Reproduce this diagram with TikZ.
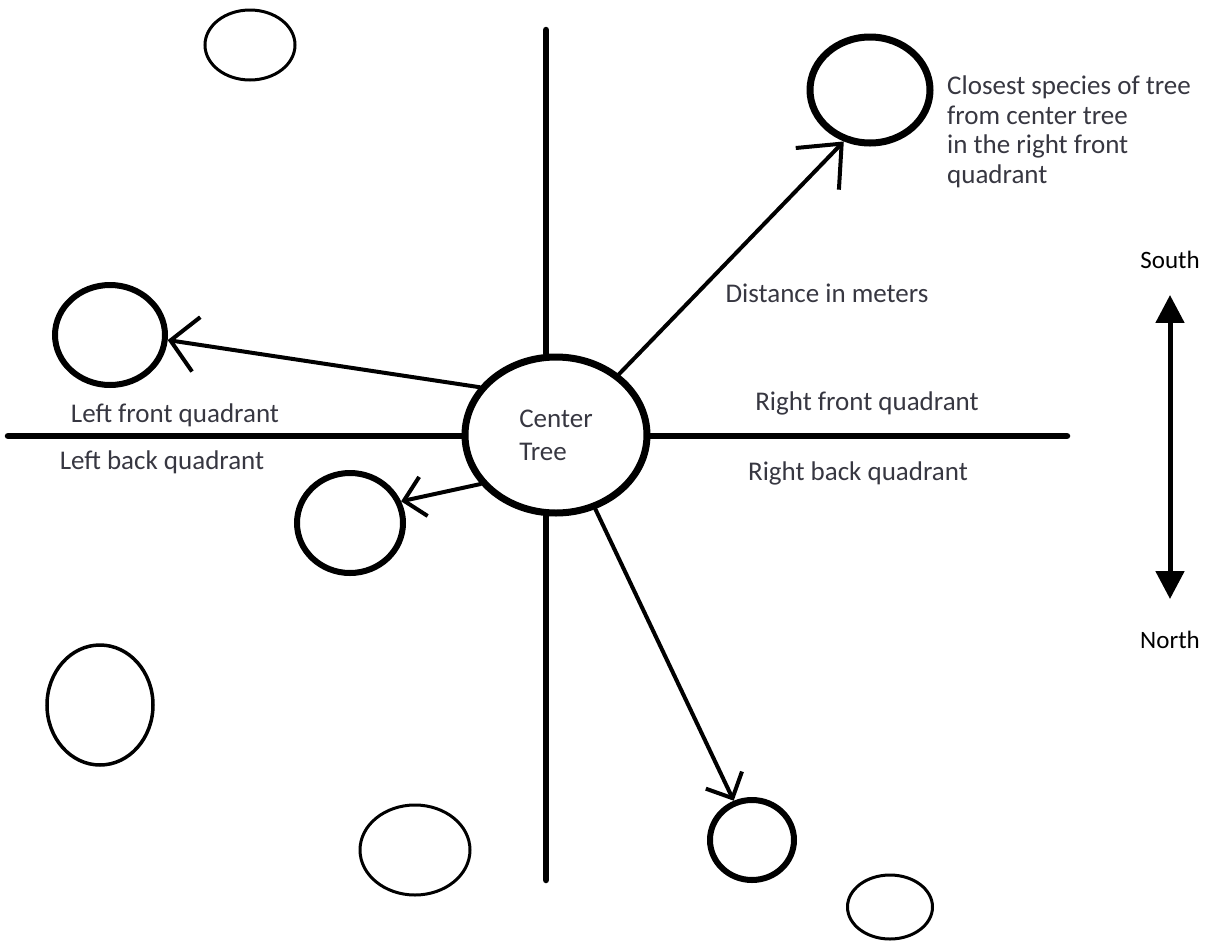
\documentclass[tikz,border=0pt]{standalone}
\usepackage{fontspec}
\setmainfont{Carlito}
\usetikzlibrary{shapes.geometric,arrows.meta}
\definecolor{labelgray}{RGB}{55,55,65}
\tikzset{
  tree/.style={draw,ellipse,inner sep=0pt,line width=#1},
  tree/.default=3pt,
  quadtext/.style={text=labelgray,font=\fontsize{27}{28}\selectfont,inner sep=0pt},
  axis/.style={line width=6.5pt,line cap=round},
  pointer/.style={line width=4pt,line cap=round}
}
\begin{document}
\begin{tikzpicture}[x=1pt,y=-1pt]
\useasboundingbox (0,0) rectangle (1211,946);
% trees
\node[tree=7pt,minimum width=182pt,minimum height=156pt,align=left,quadtext] (ct) at (556,435) {Center\\[5pt]Tree};
\node[tree=7pt,minimum width=120pt,minimum height=106pt] (rf) at (870,90) {};
\node[tree=6pt,minimum width=110pt,minimum height=100pt] (lf) at (110,335) {};
\node[tree=6pt,minimum width=106pt,minimum height=100pt] (lb) at (350,523) {};
\node[tree=6pt,minimum width=84pt,minimum height=80pt] (br) at (752,840) {};
\node[tree,minimum width=90pt,minimum height=70pt] (tl) at (250,45) {};
\node[tree=3.5pt,minimum width=106pt,minimum height=120pt] (lo) at (100,705) {};
\node[tree,minimum width=110pt,minimum height=90pt] (bo) at (415,850) {};
\node[tree,minimum width=85pt,minimum height=64pt] (bs) at (890,907) {};
% axes
\coordinate (axtop) at (546,30);
\coordinate (axbot) at (546,880);
\coordinate (axleft) at (8,436);
\coordinate (axright) at (1067,436);
\draw[axis] (axtop) -- (axtop |- ct.north);
\draw[axis] (axbot) -- (axbot |- ct.south);
\draw[axis] (axleft) -- (axleft -| ct.west);
\draw[axis] (axright) -- (axright -| ct.east);
% distances
\draw[pointer,-{Straight Barb[length=35pt,width=60pt]}] (ct.44) -- (rf.243);
\draw[pointer,-{Straight Barb[length=26pt,width=55pt]}] (ct.148) -- (lf.355);
\draw[pointer,-{Straight Barb[length=20pt,width=40pt]}] (ct.213) -- (lb.23);
\draw[pointer,-{Straight Barb[length=20pt,width=40pt]}] (ct.298) -- (br.115);
% labels
\node[quadtext] (lft) at (175,415) {Left front quadrant};
\node[quadtext] (lbk) at (162,462) {Left back quadrant};
\node[quadtext] (rft) at (867,403) {Right front quadrant};
\node[quadtext] (rbk) at (858,473) {Right back quadrant};
\node[quadtext] (dist) at (827,293) {Distance in meters};
\node[quadtext,font=\fontsize{27}{29.5}\selectfont,align=left,anchor=north west] (closest) at (947,76) {Closest species of tree\\from center tree\\in the right front\\quadrant};
% compass
\node[font=\fontsize{25}{27}\selectfont,inner sep=0pt] (south) at (1170,260) {South};
\node[font=\fontsize{25}{27}\selectfont,inner sep=0pt] (north) at (1170,640) {North};
\draw[line width=5pt,{Triangle[length=28pt,width=28pt]}-{Triangle[length=28pt,width=28pt]}] ([yshift=-26pt]south.south) -- ([yshift=32pt]north.north);
\end{tikzpicture}
\end{document}
